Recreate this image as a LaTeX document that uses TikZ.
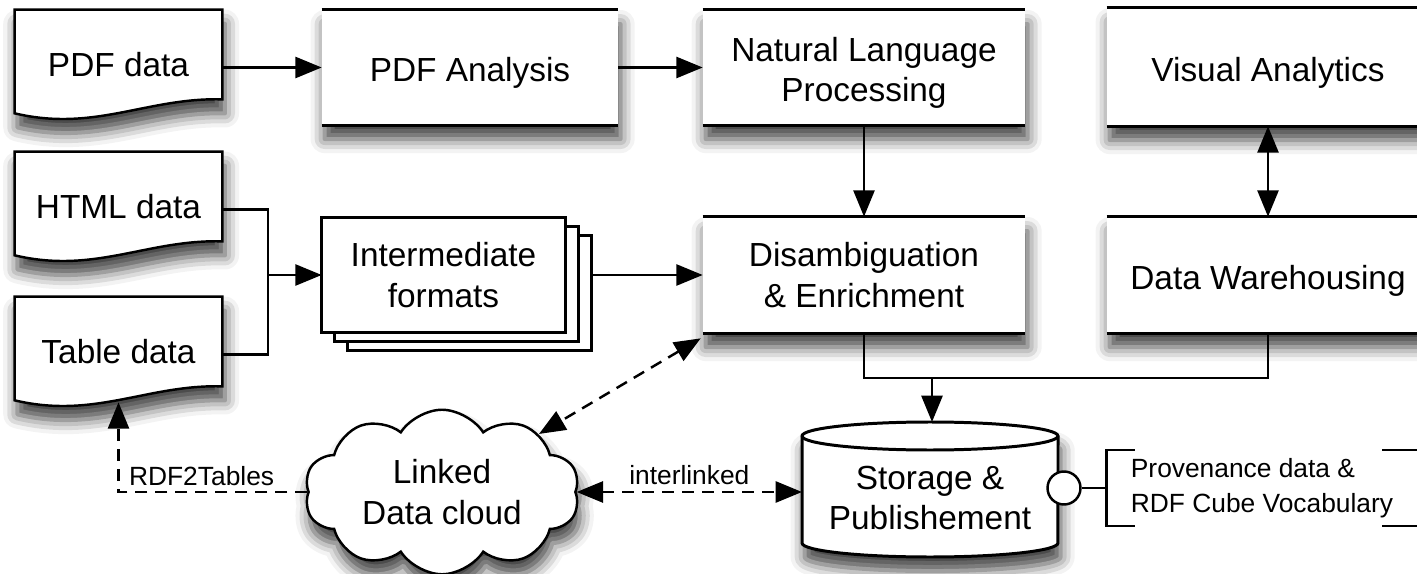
\documentclass[tikz,border=0pt]{standalone}
\usepackage{fontspec}
\setmainfont{Liberation Sans}
\usetikzlibrary{shapes.symbols,shadows.blur,arrows.meta}

\tikzset{
  every node/.style={font=\fontsize{19}{23}\selectfont, align=center, inner sep=0pt},
  small/.style={font=\fontsize{15}{20}\selectfont},
  shade/.style={blur shadow={shadow xshift=1.5pt, shadow yshift=-8pt, shadow blur radius=8pt, shadow opacity=75}},
  procbox/.style={fill=white, minimum width=6.44cm, minimum height=2.32cm, shade},
  oneline/.style={text height=0.58cm, text depth=0pt},
  docbox/.style={minimum width=4.14cm, minimum height=2.3cm},
  edgeline/.style={line width=1.7pt},
  link/.style={line width=1.4pt},
  arr/.style={link, -{Triangle[length=15pt,width=12pt,fill=black]}},
  biarr/.style={link, {Triangle[length=15pt,width=12pt,fill=black]}-{Triangle[length=15pt,width=12pt,fill=black]}},
  dashlink/.style={dash pattern=on 0.24cm off 0.16cm},
}

\begin{document}
\begin{tikzpicture}[x=0.02cm, y=-0.02cm]
\useasboundingbox (0,0) rectangle (1417,574);

% data sources
\node[docbox] (pdf) at (118.5,67.5) {};
\node[docbox] (html) at (118.5,209.5) {};
\node[docbox] (tab) at (118.5,354.5) {};
\foreach \n in {pdf,html,tab}
  \draw[link, fill=white, shade] (\n.north west) -- (\n.north east) -- ([yshift=0.52cm]\n.south east)
    .. controls ([xshift=-1.5cm,yshift=0.56cm]\n.south east) and ([xshift=1.6cm,yshift=-0.14cm]\n.south west)
    .. ([yshift=0.24cm]\n.south west) -- cycle;
\node at ([yshift=0.05cm]pdf) {PDF data};
\node at ([yshift=0.05cm]html) {HTML data};
\node at ([yshift=0.05cm]tab) {Table data};

% processing steps
\node[procbox, oneline, minimum width=5.92cm, minimum height=2.3cm] (pdfan) at (470,67.5) {PDF Analysis};
\node[procbox, minimum height=2.3cm] (nlp) at (864,67.5) {\rule{0pt}{0.7cm}Natural Language\\Processing};
\node[procbox, oneline, minimum height=2.36cm] (va) at (1268,67) {Visual Analytics};
\node[procbox] (dis) at (864,275) {Disambiguation\\\& Enrichment};
\node[procbox, oneline] (dw) at (1268,275) {Data Warehousing};
\foreach \n in {pdfan,nlp,va,dis,dw}
  \draw[edgeline] (\n.north west) -- (\n.north east) (\n.south west) -- (\n.south east);

% intermediate formats (stack)
\node[minimum width=4.86cm, minimum height=2.28cm] (inter) at (443.5,275) {};
\foreach \d in {2,1}
  \draw[link, fill=white] ([shift={(\d*0.26cm,-\d*0.18cm)}]inter.north west) rectangle ([shift={(\d*0.26cm,-\d*0.18cm)}]inter.south east);
\draw[link, fill=white] (inter.north west) rectangle (inter.south east);
\node at (inter) {Intermediate\\formats};

% linked data cloud
\node[cloud, draw, fill=white, link, cloud puffs=10, cloud puff arc=115, aspect=1.7,
  minimum width=5.5cm, minimum height=3.2cm, shade] (cloud) at (442,492) {Linked\\Data cloud};

% storage
\draw[edgeline, fill=white, shade] (802,436) -- (802,543) arc[start angle=180, end angle=360, x radius=2.56cm, y radius=0.28cm]
  -- (1058,436) arc[start angle=0, end angle=180, x radius=2.56cm, y radius=0.28cm] -- cycle;
\draw[edgeline] (802,436) arc[start angle=180, end angle=360, x radius=2.56cm, y radius=0.28cm];
\node[minimum width=5.12cm] (stor) at (930,498) {Storage \&\\Publishement};
\coordinate (stortop) at (932,422);

% annotation
\node[small, align=left, minimum width=6.2cm, minimum height=1.5cm] (prov) at (1262,488) {Provenance data \&\\RDF Cube Vocabulary};
\node[circle, draw, link, fill=white, minimum size=0.66cm] (plug) at (1064,488) {};
\draw[link] ([xshift=0.56cm]prov.north west) -| (prov.south west) -- ([xshift=0.56cm]prov.south west);
\draw[link] ([xshift=-0.7cm]prov.north east) -- (prov.north east);
\draw[link] ([xshift=-0.7cm]prov.south east) -- (prov.south east);
\draw[link] (plug) -- (prov.west);

% connectors
\draw[arr] (pdf.east) -- (pdfan.west);
\draw[arr] (pdfan.east) -- (nlp.west);
\draw[arr] (nlp) -- (dis);
\draw[biarr] (va) -- (dw);
\coordinate (join) at (268,275);
\draw[link] (html.east) -| (join) |- (tab.east);
\draw[arr] (join) -- (inter.west);
\draw[arr] ([xshift=0.52cm]inter.east) -- (dis.west);
\coordinate (merge) at (932,378);
\draw[link] (dis.south) |- (merge) -| (dw.south);
\draw[arr] (merge) -- (stortop);
\draw[biarr, dashlink] ([shift={(-0.04cm,-0.1cm)}]dis.south west) -- (cloud.north east);
\draw[arr, dashlink] (cloud.west) -| node[small, above=0.1cm, pos=0.28] {RDF2Tables} ([yshift=0.2cm]tab.south);
\draw[biarr, dashlink] (cloud.east) -- (cloud.east -| 802,0) node[small, midway, above=0.12cm] {interlinked};
\end{tikzpicture}
\end{document}
